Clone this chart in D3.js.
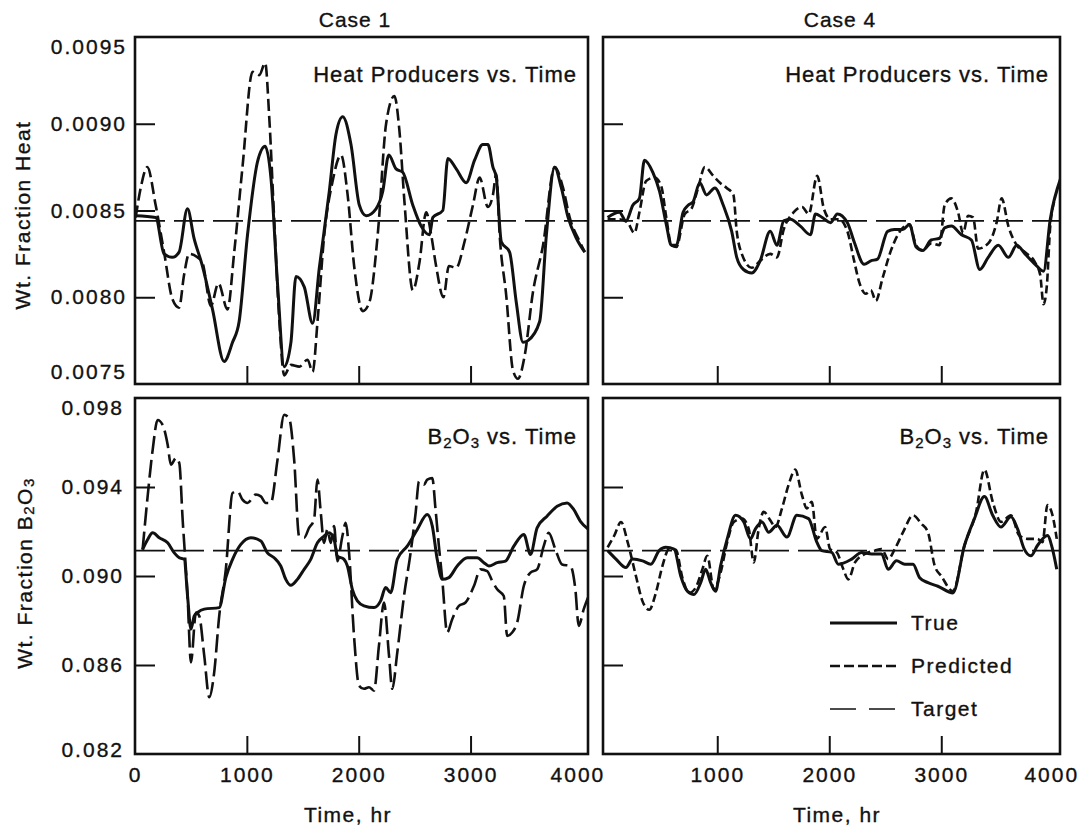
<!DOCTYPE html>
<html>
<head>
<meta charset="utf-8">
<script src="https://cdn.jsdelivr.net/npm/d3@7/dist/d3.min.js"></script>
<style>
body{margin:0;background:#fff;}
svg{display:block;}
text{font-family:"Liberation Sans",Arial,Helvetica,sans-serif;fill:#111;stroke:#111;stroke-width:0.35px;}
</style>
</head>
<body>
<div id="canvas"></div>
<script>
//values: [time hr, wt fraction]
var caseNames = ['Case 1','Case 4'];
var timeTicks = [0,1000,2000,3000,4000];
var heatTicks = [0.0075,0.0080,0.0085,0.0090,0.0095];
var b2o3Ticks = [0.082,0.086,0.090,0.094,0.098];
var heatTarget = 0.00844;
var b2o3Target = 0.09114;
var legendLabels = ['True','Predicted','Target'];

var case1HeatTrue = [[6,0.00847],[185,0.00846],[260,0.00825],[334,0.00823],[394,0.00826],[469,0.00851],[528,0.00834],[603,0.00818],[693,0.00793],[797,0.00763],[872,0.00774],[931,0.00786],[1006,0.00836],[1095,0.00878],[1164,0.00887],[1215,0.00869],[1275,0.00807],[1334,0.00760],[1394,0.00774],[1439,0.00812],[1513,0.00806],[1588,0.00785],[1648,0.00817],[1737,0.00861],[1797,0.00894],[1857,0.00904],[1931,0.00888],[2006,0.00853],[2066,0.00847],[2155,0.00851],[2215,0.00861],[2269,0.00882],[2334,0.00874],[2394,0.00872],[2484,0.00853],[2558,0.00841],[2633,0.00836],[2663,0.00846],[2752,0.00850],[2797,0.00880],[2872,0.00874],[2961,0.00866],[3036,0.00879],[3110,0.00888],[3155,0.00888],[3200,0.00875],[3230,0.00869],[3275,0.00832],[3349,0.00826],[3409,0.00797],[3469,0.00774],[3513,0.00775],[3618,0.00786],[3678,0.00836],[3752,0.00875],[3812,0.00863],[3872,0.00846],[3946,0.00834],[4021,0.00826]];
var case1HeatPred = [[6,0.00846],[51,0.00863],[110,0.00875],[185,0.00853],[260,0.00826],[334,0.00799],[394,0.00794],[439,0.00813],[484,0.00825],[558,0.00823],[603,0.00820],[678,0.00795],[746,0.00808],[827,0.00793],[887,0.00826],[961,0.00875],[1051,0.00930],[1110,0.00928],[1164,0.00935],[1200,0.00904],[1245,0.00844],[1290,0.00787],[1334,0.00755],[1394,0.00761],[1469,0.00760],[1543,0.00764],[1588,0.00757],[1633,0.00787],[1692,0.00836],[1767,0.00867],[1842,0.00882],[1901,0.00859],[1961,0.00817],[2036,0.00792],[2095,0.00797],[2170,0.00836],[2245,0.00900],[2319,0.00916],[2364,0.00896],[2409,0.00855],[2484,0.00804],[2543,0.00820],[2603,0.00849],[2648,0.00836],[2692,0.00818],[2758,0.00800],[2806,0.00818],[2872,0.00817],[2946,0.00832],[3021,0.00853],[3081,0.00869],[3155,0.00852],[3200,0.00859],[3230,0.00871],[3260,0.00836],[3319,0.00801],[3379,0.00758],[3424,0.00753],[3483,0.00766],[3558,0.00803],[3648,0.00830],[3752,0.00875],[3827,0.00863],[3886,0.00846],[3976,0.00832],[4021,0.00826]];
var case4HeatTrue = [[21,0.00846],[126,0.00849],[186,0.00844],[246,0.00853],[305,0.00857],[350,0.00879],[425,0.00872],[485,0.00861],[545,0.00842],[590,0.00830],[635,0.00830],[695,0.00849],[740,0.00853],[784,0.00855],[844,0.00866],[904,0.00859],[979,0.00863],[1054,0.00853],[1129,0.00838],[1174,0.00823],[1234,0.00816],[1308,0.00814],[1383,0.00821],[1473,0.00838],[1533,0.00830],[1593,0.00844],[1653,0.00845],[1742,0.00841],[1832,0.00836],[1877,0.00848],[1937,0.00846],[2012,0.00843],[2072,0.00848],[2162,0.00843],[2222,0.00832],[2311,0.00819],[2371,0.00821],[2431,0.00822],[2521,0.00838],[2581,0.00839],[2656,0.00839],[2716,0.00842],[2775,0.00829],[2835,0.00827],[2910,0.00833],[2985,0.00834],[3030,0.00840],[3090,0.00841],[3180,0.00836],[3269,0.00833],[3344,0.00816],[3419,0.00823],[3509,0.00830],[3599,0.00823],[3674,0.00830],[3748,0.00825],[3838,0.00819],[3913,0.00815],[3973,0.00845],[4063,0.00868]];
var case4HeatPred = [[21,0.00845],[126,0.00845],[201,0.00843],[260,0.00837],[305,0.00849],[365,0.00867],[440,0.00869],[500,0.00864],[545,0.00846],[590,0.00830],[635,0.00829],[710,0.00848],[769,0.00851],[829,0.00863],[889,0.00875],[964,0.00870],[1024,0.00866],[1084,0.00863],[1144,0.00859],[1174,0.00838],[1219,0.00825],[1308,0.00817],[1383,0.00821],[1473,0.00825],[1533,0.00823],[1593,0.00839],[1683,0.00849],[1757,0.00852],[1817,0.00848],[1892,0.00870],[1952,0.00851],[2012,0.00845],[2087,0.00845],[2162,0.00838],[2222,0.00821],[2266,0.00809],[2326,0.00802],[2371,0.00804],[2416,0.00798],[2476,0.00811],[2551,0.00827],[2656,0.00840],[2716,0.00842],[2775,0.00830],[2835,0.00827],[2910,0.00831],[2985,0.00830],[3030,0.00853],[3090,0.00857],[3150,0.00849],[3195,0.00837],[3239,0.00847],[3284,0.00846],[3329,0.00828],[3419,0.00831],[3494,0.00843],[3539,0.00857],[3599,0.00841],[3674,0.00830],[3748,0.00826],[3838,0.00820],[3883,0.00813],[3913,0.00796],[3943,0.00807],[3973,0.00841],[4018,0.00857]];
var case1B2O3True = [[68,0.09119],[113,0.09164],[158,0.09194],[217,0.09172],[292,0.09149],[351,0.09104],[396,0.09082],[440,0.09075],[470,0.08910],[500,0.08761],[530,0.08821],[560,0.08836],[619,0.08851],[753,0.08858],[812,0.08993],[872,0.09075],[946,0.09142],[1036,0.09172],[1125,0.09157],[1184,0.09104],[1244,0.09082],[1303,0.09045],[1348,0.08985],[1393,0.08958],[1452,0.08985],[1512,0.09030],[1571,0.09075],[1631,0.09149],[1690,0.09179],[1735,0.09194],[1780,0.09164],[1809,0.09090],[1869,0.09075],[1899,0.09045],[1943,0.08940],[1988,0.08888],[2047,0.08866],[2137,0.08858],[2196,0.08888],[2241,0.08948],[2286,0.08925],[2345,0.09075],[2434,0.09134],[2524,0.09209],[2613,0.09276],[2658,0.09224],[2702,0.09075],[2747,0.08985],[2806,0.08993],[2881,0.09045],[2970,0.09082],[3059,0.09082],[3119,0.09060],[3164,0.09045],[3238,0.09060],[3312,0.09067],[3387,0.09134],[3476,0.09187],[3536,0.09097],[3595,0.09216],[3684,0.09269],[3774,0.09313],[3863,0.09328],[3922,0.09299],[3982,0.09246],[4056,0.09209]];
var case1B2O3Pred = [[68,0.09119],[113,0.09358],[158,0.09567],[202,0.09701],[247,0.09679],[292,0.09590],[321,0.09500],[366,0.09530],[396,0.09507],[426,0.09254],[470,0.08910],[500,0.08612],[545,0.08836],[574,0.08821],[619,0.08642],[664,0.08455],[708,0.08567],[753,0.08821],[812,0.09030],[872,0.09373],[917,0.09381],[961,0.09343],[1006,0.09328],[1080,0.09366],[1125,0.09358],[1170,0.09328],[1214,0.09328],[1274,0.09522],[1333,0.09724],[1378,0.09709],[1423,0.09522],[1467,0.09179],[1512,0.09172],[1556,0.09216],[1601,0.09254],[1631,0.09433],[1661,0.09284],[1690,0.09149],[1720,0.09209],[1750,0.09149],[1780,0.09224],[1809,0.09067],[1854,0.09179],[1884,0.09239],[1914,0.09104],[1958,0.08731],[2003,0.08507],[2047,0.08493],[2092,0.08500],[2137,0.08485],[2181,0.08687],[2226,0.08881],[2271,0.08642],[2300,0.08493],[2345,0.08657],[2405,0.08910],[2464,0.09104],[2509,0.09284],[2539,0.09425],[2583,0.09410],[2613,0.09433],[2658,0.09440],[2687,0.09299],[2717,0.09134],[2747,0.08985],[2791,0.08746],[2836,0.08806],[2896,0.08866],[2955,0.08881],[3030,0.08955],[3089,0.09030],[3149,0.09022],[3193,0.08978],[3238,0.08940],[3297,0.08910],[3327,0.08731],[3372,0.08746],[3417,0.08791],[3476,0.08955],[3536,0.09015],[3595,0.09030],[3654,0.09134],[3699,0.09194],[3759,0.09119],[3818,0.09052],[3893,0.09045],[3937,0.08940],[3967,0.08776],[4012,0.08851],[4056,0.08910]];
var case4B2O3True = [[22,0.09114],[96,0.09076],[185,0.09038],[244,0.09076],[333,0.09068],[407,0.09053],[481,0.09114],[541,0.09129],[615,0.09121],[674,0.09000],[733,0.08932],[793,0.08917],[852,0.08970],[896,0.09030],[941,0.08970],[985,0.08932],[1030,0.09046],[1089,0.09167],[1163,0.09273],[1237,0.09243],[1296,0.09167],[1341,0.09212],[1400,0.09243],[1459,0.09197],[1533,0.09228],[1622,0.09175],[1711,0.09273],[1815,0.09258],[1889,0.09152],[1933,0.09114],[2022,0.09106],[2081,0.09053],[2200,0.09076],[2289,0.09106],[2378,0.09099],[2467,0.09099],[2526,0.09030],[2600,0.09068],[2674,0.09053],[2748,0.09053],[2807,0.08992],[2881,0.08970],[2970,0.08954],[3104,0.08924],[3207,0.09137],[3296,0.09258],[3385,0.09357],[3459,0.09273],[3533,0.09220],[3622,0.09266],[3681,0.09212],[3741,0.09121],[3800,0.09091],[3859,0.09137],[3948,0.09182],[3993,0.09121],[4031,0.09030]];
var case4B2O3Pred = [[22,0.09129],[81,0.09182],[141,0.09243],[200,0.09152],[274,0.09000],[333,0.08886],[393,0.08848],[452,0.08924],[511,0.09046],[570,0.09121],[630,0.09118],[689,0.08992],[748,0.08924],[807,0.08947],[867,0.09030],[911,0.09091],[970,0.08939],[1030,0.09015],[1089,0.09152],[1148,0.09243],[1222,0.09258],[1281,0.09212],[1326,0.09061],[1370,0.09212],[1415,0.09288],[1474,0.09250],[1519,0.09220],[1578,0.09304],[1637,0.09410],[1696,0.09478],[1756,0.09364],[1800,0.09304],[1844,0.09334],[1889,0.09167],[1963,0.09220],[2007,0.09121],[2067,0.09106],[2126,0.09030],[2170,0.08985],[2230,0.09061],[2319,0.09099],[2408,0.09114],[2467,0.09121],[2526,0.09076],[2585,0.09121],[2659,0.09197],[2748,0.09273],[2822,0.09235],[2881,0.09197],[2941,0.09046],[3000,0.09000],[3104,0.08932],[3207,0.09137],[3311,0.09288],[3385,0.09478],[3459,0.09334],[3533,0.09243],[3622,0.09273],[3696,0.09182],[3770,0.09167],[3859,0.09167],[3904,0.09152],[3948,0.09319],[3993,0.09273],[4031,0.09167]];

//layout
var outerWidth = 1086, outerHeight = 833;
var svg = d3.select('#canvas')
    .append('svg')
    .attr('width', outerWidth)
    .attr('height', outerHeight);

var cols = [
  {x0:135, x1:588, domain:[0,4050], titleX:355, timeX:348},
  {x0:603, x1:1060, domain:[-20,4060], titleX:840, timeX:837}
];
var rows = [
  {y0:37, y1:384, domain:[0.0075,0.0095], ticks:heatTicks, target:heatTarget, fmt:d3.format('.4f'), pad:8, shift:[-12,10]},
  {y0:398, y1:754, domain:[0.082,0.098], ticks:b2o3Ticks, target:b2o3Target, fmt:d3.format('.3f'), pad:11, shift:[-4,10]}
];
var panels = [
  {c:0, r:0, tru:case1HeatTrue, pred:case1HeatPred, dash:'12,5'},
  {c:1, r:0, tru:case4HeatTrue, pred:case4HeatPred, dash:'8,4'},
  {c:0, r:1, tru:case1B2O3True, pred:case1B2O3Pred, dash:'18,6'},
  {c:1, r:1, tru:case4B2O3True, pred:case4B2O3Pred, dash:'8,4'}
];
var targetDash = '30,9';

panels.forEach(function(p, i){
  var col = cols[p.c], row = rows[p.r];
  var scaleX = d3.scaleLinear().domain(col.domain).range([col.x0, col.x1]);
  var scaleY = d3.scaleLinear().domain(row.domain).range([row.y1, row.y0]);
  var g = svg.append('g').attr('class','panel');

  g.append('clipPath').attr('id','clip'+i)
    .append('rect')
    .attr('x', col.x0).attr('y', row.y0)
    .attr('width', col.x1 - col.x0).attr('height', row.y1 - row.y0);

  var line = d3.line()
      .x(function(d){ return scaleX(d[0]); })
      .y(function(d){ return scaleY(d[1]); })
      .curve(d3.curveMonotoneX);

  var lines = g.append('g').attr('clip-path','url(#clip'+i+')');

  //target
  lines.append('path')
    .attr('d', d3.line()
      .x(function(d){ return scaleX(d[0]); })
      .y(function(d){ return scaleY(d[1]); })([[col.domain[0], row.target],[col.domain[1], row.target]]))
    .attr('fill','none').attr('stroke','#111')
    .attr('stroke-width',1.6).attr('stroke-dasharray',targetDash);

  lines.append('path')
    .attr('d', line(p.pred))
    .attr('fill','none').attr('stroke','#111')
    .attr('stroke-width',2.6).attr('stroke-dasharray',p.dash);

  lines.append('path')
    .attr('d', line(p.tru))
    .attr('fill','none').attr('stroke','#111')
    .attr('stroke-width',3).attr('stroke-linejoin','round');

  //y axis with inward ticks
  var axisY = d3.axisLeft(scaleY)
      .tickValues(row.ticks)
      .tickSize(-20)
      .tickPadding(row.pad)
      .tickFormat(p.c === 0 ? row.fmt : '');
  var gy = g.append('g')
      .attr('transform','translate(' + col.x0 + ',0)')
      .call(axisY);
  gy.select('.domain').remove();
  gy.selectAll('.tick line')
    .attr('stroke','#111').attr('stroke-width',2)
    .filter(function(d){ return d === row.domain[0] || d === row.domain[1]; }).remove();
  gy.selectAll('.tick text')
    .attr('font-family','"Liberation Sans",Arial,sans-serif')
    .attr('font-size',21).attr('letter-spacing',2).attr('fill','#111')
    .attr('transform', function(d){
      if (d === row.domain[0]) return 'translate(0,' + row.shift[0] + ')';
      if (d === row.domain[1]) return 'translate(0,' + row.shift[1] + ')';
      return null;
    });

  //x axis with inward ticks
  var xVals = p.r === 0 ? timeTicks.slice(1,4) : (p.c === 0 ? timeTicks : timeTicks.slice(1));
  var axisX = d3.axisBottom(scaleX)
      .tickValues(xVals)
      .tickSize(-18)
      .tickPadding(13)
      .tickFormat(p.r === 1 ? d3.format('d') : '');
  var gx = g.append('g')
      .attr('transform','translate(0,' + row.y1 + ')')
      .call(axisX);
  gx.select('.domain').remove();
  gx.selectAll('.tick line')
    .attr('stroke','#111').attr('stroke-width',2)
    .filter(function(d){ return d === 0 || d === 4000; }).remove();
  gx.selectAll('.tick text')
    .attr('font-family','"Liberation Sans",Arial,sans-serif')
    .attr('font-size',21).attr('letter-spacing',2).attr('fill','#111')
    .attr('transform', function(d){ return d === 4000 ? 'translate(' + (p.c === 0 ? -5 : -2) + ',0)' : null; });

  //frame
  g.append('rect')
    .attr('x', col.x0).attr('y', row.y0)
    .attr('width', col.x1 - col.x0).attr('height', row.y1 - row.y0)
    .attr('fill','none').attr('stroke','#111').attr('stroke-width',2.6);

  //panel title
  var title = g.append('text')
    .attr('x', col.x1 - 11)
    .attr('y', p.r === 0 ? row.y0 + 45 : row.y0 + 46)
    .attr('text-anchor','end')
    .attr('font-size',22).attr('letter-spacing',1);
  if (p.r === 0) {
    title.text('Heat Producers vs. Time');
  } else {
    title.append('tspan').text('B');
    title.append('tspan').attr('font-size',15).attr('dy',4).text('2');
    title.append('tspan').attr('dy',-4).text('O');
    title.append('tspan').attr('font-size',15).attr('dy',4).text('3');
    title.append('tspan').attr('dy',-4).text(' vs. Time');
  }
});

//case headings and time labels
cols.forEach(function(col, i){
  svg.append('text')
    .attr('x', col.titleX).attr('y', 27)
    .attr('text-anchor','middle')
    .attr('font-size',21).attr('letter-spacing',1)
    .text(caseNames[i]);
  svg.append('text')
    .attr('x', col.timeX).attr('y', 822)
    .attr('text-anchor','middle')
    .attr('font-size',21).attr('letter-spacing',1.5)
    .text('Time, hr');
});

//y titles
svg.append('text')
  .attr('transform','translate(22,' + 215 + ') rotate(-90)')
  .attr('text-anchor','middle').attr('dominant-baseline','central')
  .attr('font-size',21).attr('letter-spacing',1.5)
  .text('Wt. Fraction Heat');

var yt = svg.append('text')
  .attr('transform','translate(24,' + 573 + ') rotate(-90)')
  .attr('text-anchor','middle').attr('dominant-baseline','central')
  .attr('font-size',21).attr('letter-spacing',1.5);
yt.append('tspan').text('Wt. Fraction B');
yt.append('tspan').attr('font-size',15).attr('dy',4).text('2');
yt.append('tspan').attr('dy',-4).text('O');
yt.append('tspan').attr('font-size',15).attr('dy',4).text('3');

//legend in lower right panel
var legendStyles = [{dash:null, w:3},{dash:'10,4', w:2.6},{dash:'26,13', w:1.6}];
var legend = svg.append('g')
    .attr('transform','translate(830,623)');
legendLabels.forEach(function(label, i){
  var item = legend.append('g').attr('transform','translate(0,' + (i * 43) + ')');
  item.append('line')
    .attr('x1',0).attr('x2',67).attr('y1',0).attr('y2',0)
    .attr('stroke','#111').attr('stroke-width',legendStyles[i].w)
    .attr('stroke-dasharray',legendStyles[i].dash);
  item.append('text')
    .attr('x',81).attr('y',7)
    .attr('font-size',21).attr('letter-spacing',1.5)
    .text(label);
});
</script>
</body>
</html>
